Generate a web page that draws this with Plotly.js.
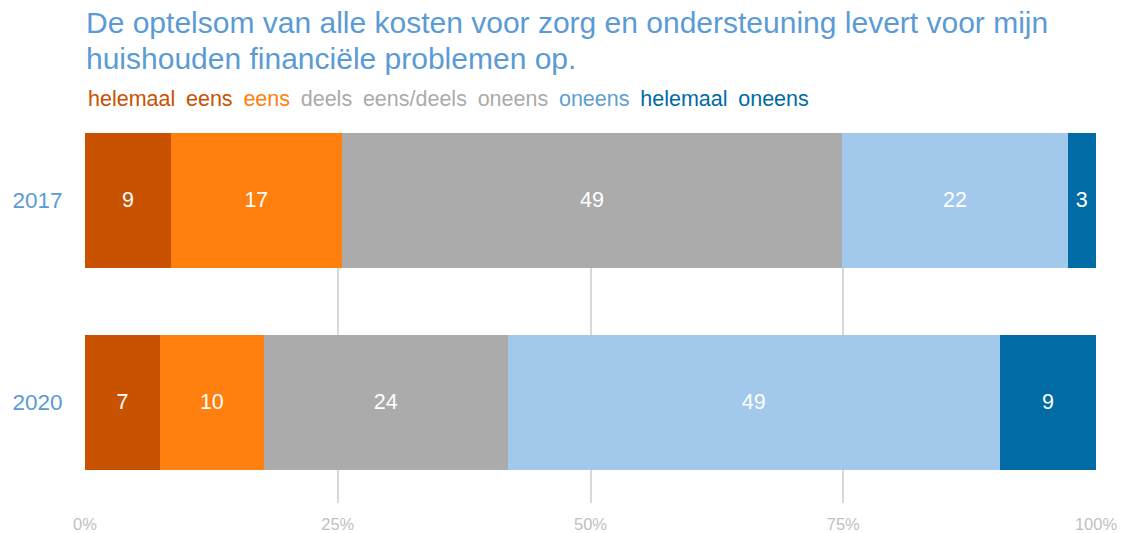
<!DOCTYPE html>
<html>
<head>
<meta charset="utf-8">
<script src="https://cdn.plot.ly/plotly-3.0.1.min.js"></script>
<style>html,body{margin:0;padding:0;background:#fff;}#chart{width:1122px;height:533px;}</style>
</head>
<body>
<div id="chart"></div>
<script>
const years = ["2017", "2020"];
const categories = ["helemaal eens", "eens", "deels eens/deels oneens", "oneens", "helemaal oneens"];
// bar lengths (percent)
const helemaalEens = [8.5, 7.4];
const eens = [16.9, 10.3];
const deels = [49.5, 24.1];
const oneens = [22.3, 48.7];
const helemaalOneens = [2.8, 9.5];
// printed labels
const helemaalEensLabels = ["9", "7"];
const eensLabels = ["17", "10"];
const deelsLabels = ["49", "24"];
const oneensLabels = ["22", "49"];
const helemaalOneensLabels = ["3", "9"];
const seriesValues = [helemaalEens, eens, deels, oneens, helemaalOneens];
const seriesLabels = [helemaalEensLabels, eensLabels, deelsLabels, oneensLabels, helemaalOneensLabels];
const barColors = ["#c85200", "#ff800e", "#ababab", "#a2c8ec", "#006ba4"];
const legendTextColors = ["#c85200", "#ff800e", "#ababab", "#5f9ed1", "#006ba4"];
const tickVals = [0, 25, 50, 75, 100];
const tickLabels = ["0%", "25%", "50%", "75%", "100%"];
const titleLines = ["De optelsom van alle kosten voor zorg en ondersteuning levert voor mijn",
                    "huishouden financiële problemen op."];

const font = "Liberation Sans, Arial, sans-serif";
const SP = "&#8194;";

const traces = categories.map((name, i) => ({
  type: "bar",
  orientation: "h",
  name: name,
  y: years,
  x: seriesValues[i],
  text: seriesLabels[i],
  texttemplate: "%{text}",
  textposition: "inside",
  insidetextanchor: "middle",
  constraintext: "none",
  textfont: {color: "#ffffff", size: 21.5, family: font},
  marker: {color: barColors[i], line: {width: 0}},
  hoverinfo: "skip"
}));

const legendHtml = categories.map((c, i) =>
  '<span style="color:' + legendTextColors[i] + '">' + c.split(" ").join(SP) + '</span>').join(SP);

const plotTop = 133, plotH = 370;
const py = px => 1 + (plotTop - px) / plotH;

const layout = {
  width: 1122,
  height: 533,
  margin: {l: 85, r: 26, t: plotTop, b: 30},
  paper_bgcolor: "#ffffff",
  plot_bgcolor: "#ffffff",
  barmode: "stack",
  barnorm: "percent",
  bargap: 0.332,
  showlegend: false,
  font: {family: font},
  annotations: [
    {text: titleLines[0], xref: "paper", yref: "paper", x: 0, xanchor: "left", xshift: -1,
     y: py(23), yanchor: "middle", showarrow: false,
     font: {size: 30, color: "#5b9bd5", family: font}},
    {text: titleLines[1], xref: "paper", yref: "paper", x: 0, xanchor: "left", xshift: -1,
     y: py(58), yanchor: "middle", showarrow: false,
     font: {size: 30, color: "#5b9bd5", family: font}},
    {text: legendHtml, xref: "paper", yref: "paper", x: 0, xanchor: "left", xshift: 1,
     y: py(99), yanchor: "middle", showarrow: false,
     font: {size: 21.5, family: font}}
  ],
  xaxis: {
    range: [0, 100],
    tickvals: tickVals,
    ticktext: tickLabels,
    showgrid: true,
    gridcolor: "#d9d9d9",
    gridwidth: 2,
    zeroline: false,
    showline: false,
    ticks: "outside",
    ticklen: 6,
    tickcolor: "rgba(0,0,0,0)",
    tickfont: {size: 16.5, color: "#bfbfbf", family: font},
    fixedrange: true
  },
  yaxis: {
    type: "category",
    range: [1.5, -0.334],
    showgrid: false,
    zeroline: false,
    showline: false,
    ticks: "outside",
    ticklen: 17,
    tickcolor: "rgba(0,0,0,0)",
    tickfont: {size: 22.5, color: "#5b9bd5", family: font},
    fixedrange: true
  }
};

Plotly.newPlot("chart", traces, layout, {displayModeBar: false, staticPlot: true});
</script>
</body>
</html>
